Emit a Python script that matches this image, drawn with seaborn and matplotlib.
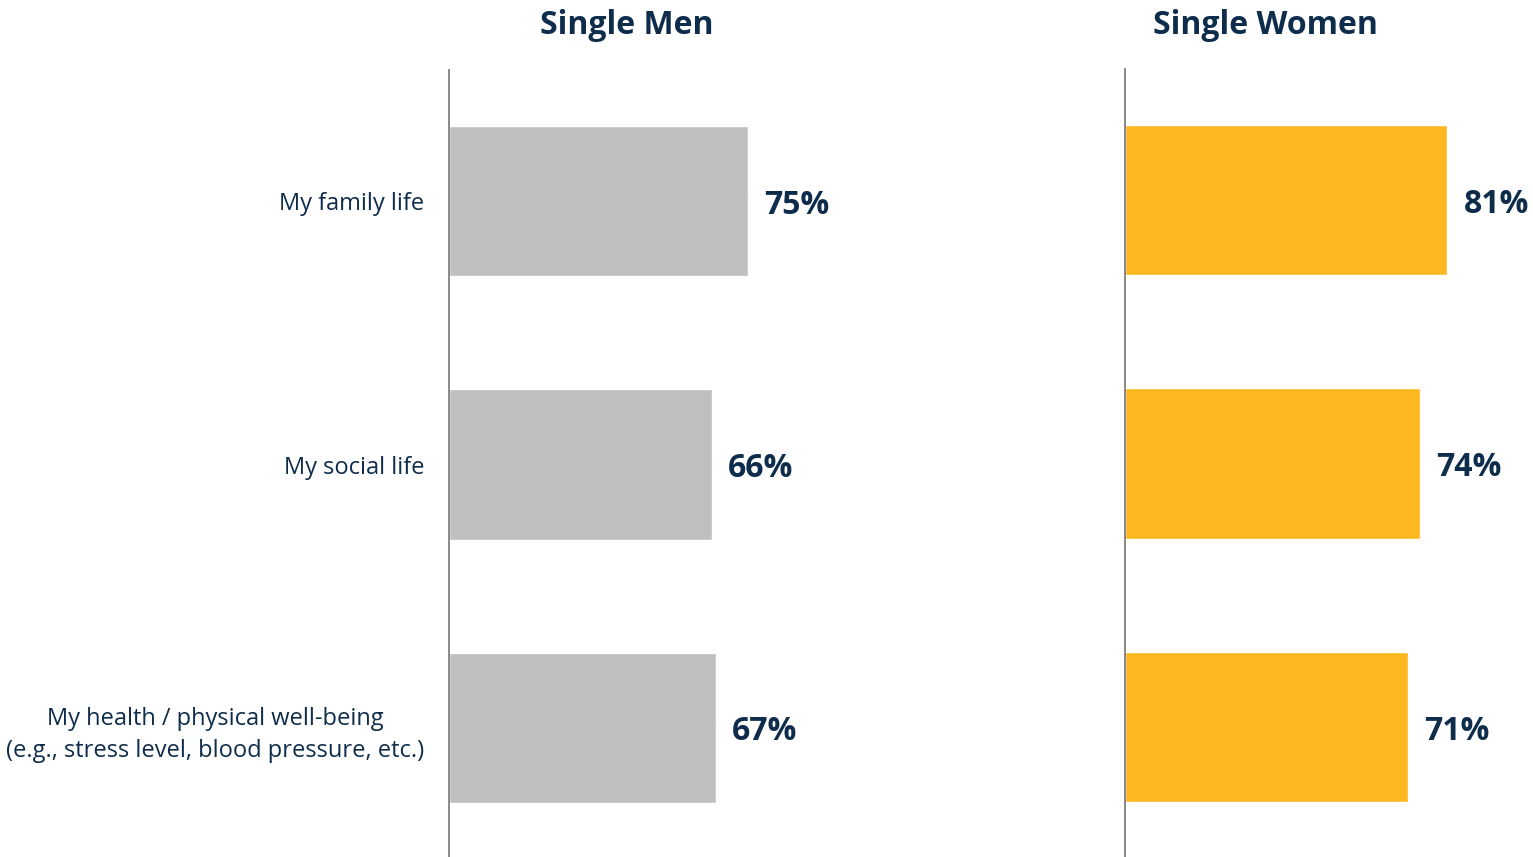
import matplotlib
matplotlib.use("Agg")
import matplotlib.pyplot as plt
import seaborn as sns
import pandas as pd

# data
categories = [
    "My family life",
    "My social life",
    "My health / physical well-being\n(e.g., stress level, blood pressure, etc.)",
]
men_values = [75, 66, 67]
women_values = [81, 74, 71]
panel_titles = ["Single Men", "Single Women"]

navy = "#0E2C4B"
grey_bar = "#BFBFBF"
gold_bar = "#FDB71F"

sns.set_theme(style="white")
plt.rcParams["font.family"] = ["Open Sans", "DejaVu Sans"]

fig = plt.figure(figsize=(15.33, 8.57), dpi=100)
W, H = 1533, 857

ax_men = fig.add_axes([449 / W, (857 - 859.5) / H, 398 / W, 790 / H])
ax_women = fig.add_axes([1125 / W, (857 - 858.5) / H, 398 / W, 790 / H])

panels = [
    (ax_men, men_values, grey_bar, True),
    (ax_women, women_values, gold_bar, False),
]

for ax, vals, col, show_labels in panels:
    df = pd.DataFrame({"category": categories, "value": vals})
    sns.barplot(data=df, x="value", y="category", color=col, width=0.57,
                saturation=1, ax=ax)
    ax.set_xlim(0, 100)
    ax.set_ylim(2.5, -0.5)
    ax.set_xlabel("")
    ax.set_ylabel("")
    ax.set_xticks([])
    for side in ["top", "right", "bottom"]:
        ax.spines[side].set_visible(False)
    ax.spines["left"].set_color("#7F7F7F")
    ax.spines["left"].set_linewidth(1.3)
    ax.tick_params(axis="y", length=0, pad=18)
    if show_labels:
        for lbl in ax.get_yticklabels():
            lbl.set_color(navy)
            lbl.set_fontsize(17)
            lbl.set_multialignment("center")
            lbl.set_linespacing(1.45)
    else:
        ax.set_yticklabels([])
    for cont in ax.containers:
        txts = ax.bar_label(cont, labels=[f"{v}%" for v in vals], padding=12,
                            color=navy, fontsize=23, fontweight="bold")
        # nudge labels down a little (offset is in points)
        for t in txts:
            t.set_y(-3)

fig.text(627 / W, 1 - 26 / H, panel_titles[0], ha="center", va="center",
         color=navy, fontsize=23, fontweight="bold")
fig.text(1265 / W, 1 - 26 / H, panel_titles[1], ha="center", va="center",
         color=navy, fontsize=23, fontweight="bold")

fig.savefig("out.png", dpi=100, facecolor="white")
